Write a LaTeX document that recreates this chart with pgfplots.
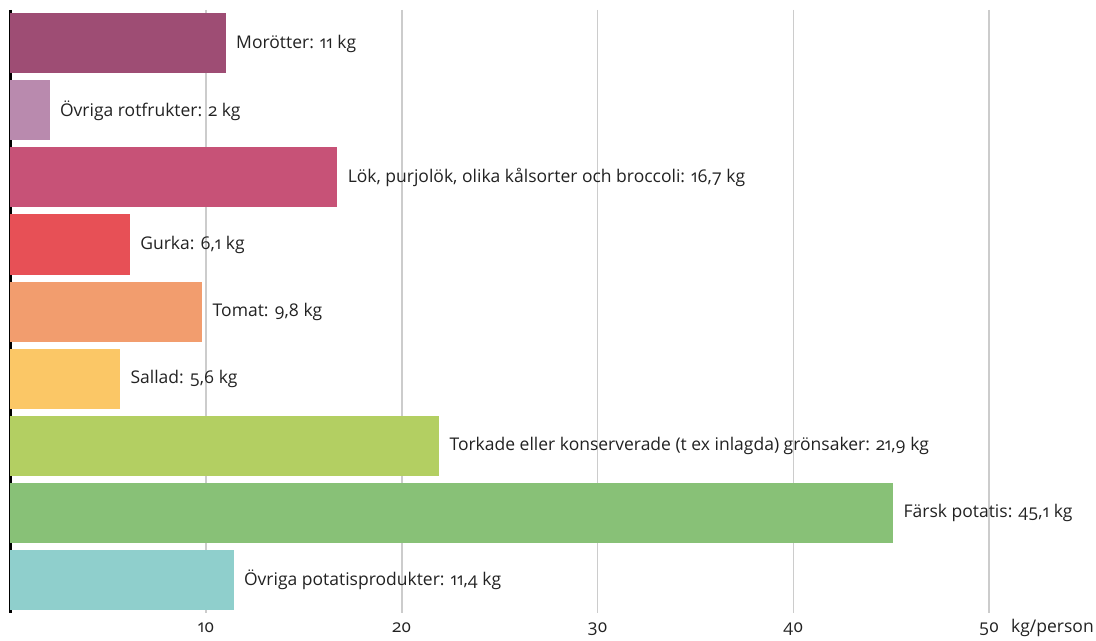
\documentclass[border=0pt]{standalone}
\usepackage{pgfplots}
\pgfplotsset{compat=1.18}
\usepackage{fontspec}
\setmainfont{Open Sans}[Numbers=OldStyle]
\definecolor{c1}{HTML}{9E4D74}
\definecolor{c2}{HTML}{B98AAE}
\definecolor{c3}{HTML}{C75277}
\definecolor{c4}{HTML}{E75056}
\definecolor{c5}{HTML}{F29D6E}
\definecolor{c6}{HTML}{FBC766}
\definecolor{c7}{HTML}{B3CF62}
\definecolor{c8}{HTML}{88C177}
\definecolor{c9}{HTML}{8FCFCC}
\definecolor{gridc}{HTML}{CCCCCC}
\definecolor{txt}{HTML}{222222}
\begin{document}
\begin{tikzpicture}
\begin{axis}[
  scale only axis,
  width=978.6pt, height=603pt,
  xmin=0, xmax=50, ymin=-0.5, ymax=8.5,
  y dir=reverse,
  xbar, bar width=60pt, bar shift=0pt,
  axis line style={draw=none},
  xtick={10,20,30,40,50},
  ytick=\empty,
  major tick length=0pt,
  xmajorgrids,
  grid style={gridc, line width=1.5pt},
  /pgf/number format/assume math mode=true,
  xticklabel style={anchor=base, yshift=-19pt, font=\fontsize{17.5}{20}\selectfont, text=txt},
  point meta=explicit symbolic,
  nodes near coords,
  every node near coord/.append style={anchor=west, xshift=7pt, font=\fontsize{17.5}{20}\selectfont, text=txt},
  clip=false,
]
\draw[black, line width=2.6pt] (axis cs:0,-0.5) -- (axis cs:0,8.5);
\addplot[fill=c1, draw=none] coordinates {(11,0) [{Morötter: 11 kg}]};
\addplot[fill=c2, draw=none] coordinates {(2,1) [{Övriga rotfrukter: 2 kg}]};
\addplot[fill=c3, draw=none] coordinates {(16.7,2) [{Lök, purjolök, olika kålsorter och broccoli: 16,7 kg}]};
\addplot[fill=c4, draw=none] coordinates {(6.1,3) [{Gurka: 6,1 kg}]};
\addplot[fill=c5, draw=none] coordinates {(9.8,4) [{Tomat: 9,8 kg}]};
\addplot[fill=c6, draw=none] coordinates {(5.6,5) [{Sallad: 5,6 kg}]};
\addplot[fill=c7, draw=none] coordinates {(21.9,6) [{Torkade eller konserverade (t ex inlagda) grönsaker: 21,9 kg}]};
\addplot[fill=c8, draw=none] coordinates {(45.1,7) [{Färsk potatis: 45,1 kg}]};
\addplot[fill=c9, draw=none] coordinates {(11.4,8) [{Övriga potatisprodukter: 11,4 kg}]};
\node[anchor=base west, inner sep=0pt, font=\fontsize{17.5}{20}\selectfont, text=txt] at ([xshift=22pt, yshift=-19pt]rel axis cs:1,0) {kg/person};
\coordinate (ll) at ([xshift=-10.4pt, yshift=-28pt]rel axis cs:0,0);
\coordinate (ur) at ([xshift=107pt, yshift=10pt]rel axis cs:1,1);
\end{axis}
\pgfresetboundingbox
\path[use as bounding box] (ll) rectangle (ur);
\end{tikzpicture}
\end{document}
